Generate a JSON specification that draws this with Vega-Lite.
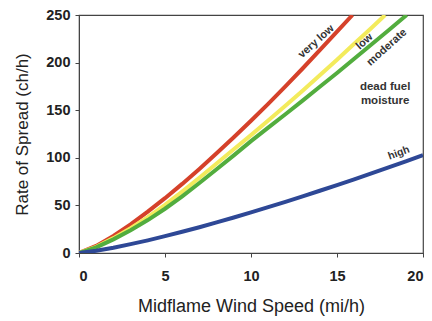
{
  "$schema": "https://vega.github.io/schema/vega-lite/v6.json",
  "autosize": "none",
  "width": 344,
  "height": 238,
  "padding": {"left": 79, "top": 15, "right": 9, "bottom": 68},
  "background": "white",
  "config": {
    "view": {"stroke": "#444", "strokeWidth": 1.2},
    "font": "Liberation Sans"
  },
  "datasets": {
    "curves": [
      {"m": "very low", "x": 0, "y": 0}, {"m": "very low", "x": 1, "y": 7.5}, {"m": "very low", "x": 2, "y": 18.0}, {"m": "very low", "x": 3, "y": 30.1}, {"m": "very low", "x": 4, "y": 43.4}, {"m": "very low", "x": 5, "y": 57.6}, {"m": "very low", "x": 6, "y": 72.6}, {"m": "very low", "x": 7, "y": 88.3}, {"m": "very low", "x": 8, "y": 104.7}, {"m": "very low", "x": 9, "y": 121.5}, {"m": "very low", "x": 10, "y": 138.9}, {"m": "very low", "x": 11, "y": 156.7}, {"m": "very low", "x": 12, "y": 175.1}, {"m": "very low", "x": 13, "y": 193.8}, {"m": "very low", "x": 14, "y": 213.1}, {"m": "very low", "x": 15, "y": 232.5}, {"m": "very low", "x": 15.9, "y": 250},
      {"m": "low", "x": 0, "y": 0}, {"m": "low", "x": 1, "y": 6.5}, {"m": "low", "x": 2, "y": 15.6}, {"m": "low", "x": 3, "y": 26.1}, {"m": "low", "x": 4, "y": 37.6}, {"m": "low", "x": 5, "y": 50.5}, {"m": "low", "x": 6, "y": 64.5}, {"m": "low", "x": 7, "y": 79.0}, {"m": "low", "x": 8, "y": 94.0}, {"m": "low", "x": 9, "y": 108.9}, {"m": "low", "x": 10, "y": 123.8}, {"m": "low", "x": 11, "y": 139.1}, {"m": "low", "x": 12, "y": 154.7}, {"m": "low", "x": 13, "y": 170.5}, {"m": "low", "x": 14, "y": 186.7}, {"m": "low", "x": 15, "y": 203.1}, {"m": "low", "x": 16, "y": 219.8}, {"m": "low", "x": 17, "y": 236.4}, {"m": "low", "x": 17.8, "y": 250},
      {"m": "moderate", "x": 0, "y": 0}, {"m": "moderate", "x": 1, "y": 6.0}, {"m": "moderate", "x": 2, "y": 14.3}, {"m": "moderate", "x": 3, "y": 24.0}, {"m": "moderate", "x": 4, "y": 34.6}, {"m": "moderate", "x": 5, "y": 46.5}, {"m": "moderate", "x": 6, "y": 59.5}, {"m": "moderate", "x": 7, "y": 73.5}, {"m": "moderate", "x": 8, "y": 88.0}, {"m": "moderate", "x": 9, "y": 102.5}, {"m": "moderate", "x": 10, "y": 117.5}, {"m": "moderate", "x": 11, "y": 131.7}, {"m": "moderate", "x": 12, "y": 145.7}, {"m": "moderate", "x": 13, "y": 160.1}, {"m": "moderate", "x": 14, "y": 174.6}, {"m": "moderate", "x": 15, "y": 189.1}, {"m": "moderate", "x": 16, "y": 204.1}, {"m": "moderate", "x": 17, "y": 219.1}, {"m": "moderate", "x": 18, "y": 234.0}, {"m": "moderate", "x": 19.05, "y": 250},
      {"m": "high", "x": 0, "y": 0}, {"m": "high", "x": 1, "y": 2.3}, {"m": "high", "x": 2, "y": 5.5}, {"m": "high", "x": 3, "y": 9.3}, {"m": "high", "x": 4, "y": 13.3}, {"m": "high", "x": 5, "y": 17.7}, {"m": "high", "x": 6, "y": 22.3}, {"m": "high", "x": 7, "y": 27.1}, {"m": "high", "x": 8, "y": 32.1}, {"m": "high", "x": 9, "y": 37.3}, {"m": "high", "x": 10, "y": 42.6}, {"m": "high", "x": 11, "y": 48.1}, {"m": "high", "x": 12, "y": 53.7}, {"m": "high", "x": 13, "y": 59.5}, {"m": "high", "x": 14, "y": 65.4}, {"m": "high", "x": 15, "y": 71.4}, {"m": "high", "x": 16, "y": 77.4}, {"m": "high", "x": 17, "y": 83.7}, {"m": "high", "x": 18, "y": 90.0}, {"m": "high", "x": 19, "y": 96.3}, {"m": "high", "x": 20, "y": 102.8}
    ],
    "diag": [
      {"label": "very low", "x": 13.8, "y": 222},
      {"label": "low", "x": 16.6, "y": 222},
      {"label": "moderate", "x": 17.9, "y": 216}
    ],
    "note": [
      {"label": "dead fuel", "x": 17.8, "y": 174.5},
      {"label": "moisture", "x": 17.8, "y": 159.5}
    ],
    "highl": [
      {"label": "high", "x": 18.6, "y": 105}
    ]
  },
  "layer": [
    {
      "data": {"name": "curves"},
      "mark": {"type": "line", "strokeWidth": 4, "clip": true},
      "encoding": {
        "x": {
          "field": "x", "type": "quantitative",
          "scale": {"domain": [0, 20], "nice": false},
          "axis": {
            "title": "Midflame Wind Speed (mi/h)",
            "values": [0, 5, 10, 15, 20],
            "grid": false,
            "domainColor": "#444",
            "tickColor": "#444",
            "tickSize": 4,
            "labelFont": "Liberation Sans",
            "labelFontSize": 14.5,
            "labelFontWeight": "bold",
            "labelColor": "#222",
            "labelPadding": 12,
            "titleFont": "Liberation Sans",
            "titleFontSize": 18,
            "titleFontWeight": "normal",
            "titleColor": "#222",
            "titlePadding": 15
          }
        },
        "y": {
          "field": "y", "type": "quantitative",
          "scale": {"domain": [0, 250], "nice": false},
          "axis": {
            "title": "Rate of Spread (ch/h)",
            "values": [0, 50, 100, 150, 200, 250],
            "grid": false,
            "domainColor": "#444",
            "tickColor": "#444",
            "tickSize": 4,
            "labelFont": "Liberation Sans",
            "labelFontSize": 14.5,
            "labelFontWeight": "bold",
            "labelColor": "#222",
            "labelPadding": 5,
            "titleFont": "Liberation Sans",
            "titleFontSize": 17,
            "titleFontWeight": "normal",
            "titleColor": "#222",
            "titlePadding": 14
          }
        },
        "color": {
          "field": "m", "type": "nominal",
          "scale": {"domain": ["very low", "low", "moderate", "high"], "range": ["#d5412a", "#f3eb5c", "#52ad3e", "#2e4896"]},
          "legend": null
        },
        "order": {"field": "x", "type": "quantitative"}
      }
    },
    {
      "data": {"name": "diag"},
      "mark": {"type": "text", "angle": -42, "fontSize": 11, "fontWeight": "bold", "color": "#333", "font": "Liberation Sans"},
      "encoding": {
        "x": {"field": "x", "type": "quantitative"},
        "y": {"field": "y", "type": "quantitative"},
        "text": {"field": "label"}
      }
    },
    {
      "data": {"name": "note"},
      "mark": {"type": "text", "fontSize": 11.5, "fontWeight": "bold", "color": "#333", "font": "Liberation Sans"},
      "encoding": {
        "x": {"field": "x", "type": "quantitative"},
        "y": {"field": "y", "type": "quantitative"},
        "text": {"field": "label"}
      }
    },
    {
      "data": {"name": "highl"},
      "mark": {"type": "text", "angle": -20, "fontSize": 10.5, "fontWeight": "bold", "color": "#333", "font": "Liberation Sans"},
      "encoding": {
        "x": {"field": "x", "type": "quantitative"},
        "y": {"field": "y", "type": "quantitative"},
        "text": {"field": "label"}
      }
    }
  ]
}
